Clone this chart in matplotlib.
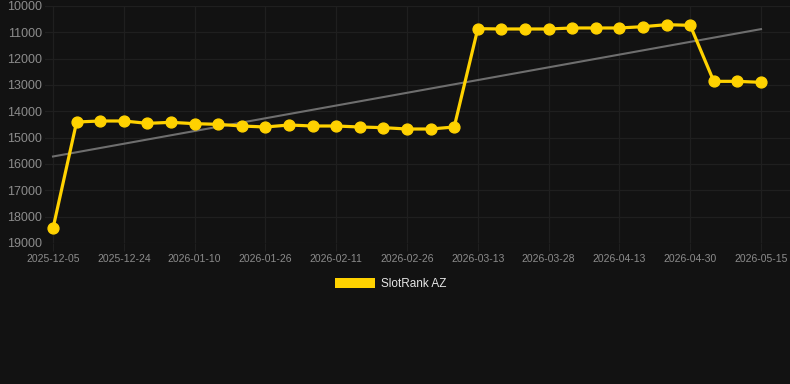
import numpy as np
import matplotlib
matplotlib.use('Agg')
import matplotlib.pyplot as plt
from matplotlib.patches import Patch

# rank per observation (lower is better, axis inverted)
rank = [18443, 14405, 14367, 14367, 14456, 14418, 14468, 14494, 14557, 14595,
        14519, 14557, 14557, 14595, 14620, 14671, 14671, 14595, 10861, 10873,
        10873, 10873, 10835, 10835, 10835, 10785, 10709, 10734, 12861, 12861,
        12899]
tick_labels = ['2025-12-05', '2025-12-24', '2026-01-10', '2026-01-26', '2026-02-11',
               '2026-02-26', '2026-03-13', '2026-03-28', '2026-04-13', '2026-04-30',
               '2026-05-15']
y_ticks = [10000, 11000, 12000, 13000, 14000, 15000, 16000, 17000, 18000, 19000]
series_name = 'SlotRank AZ'

plt.rcParams['font.family'] = ['Liberation Sans', 'DejaVu Sans']

bg = '#121212'
gold = '#FFD200'

x = np.arange(len(rank))
slope, icpt = np.polyfit(x, rank, 1)
trend = slope * x + icpt

fig = plt.figure(figsize=(7.9, 3.84), dpi=100, facecolor=bg)
ax = fig.add_axes([45/790, 1 - 243/384, 1 - 45/790, (243 - 6)/384])
ax.set_facecolor(bg)

ax.plot(x, trend, color='#6e6e6e', lw=1.5, zorder=2)
ax.plot(x, rank, color=gold, lw=2.3, marker='o', markersize=7.8, zorder=3)

ax.set_xlim(-8/23.6, (790 - 53)/23.6)
ax.set_ylim(19000, 10000)
ax.set_yticks(y_ticks)
ax.set_yticklabels([str(v) for v in y_ticks])
ax.set_xticks(x[::3])
ax.set_xticklabels(tick_labels)

ax.grid(True, color='#1f1f1f', lw=0.9)
for s in ax.spines.values():
    s.set_visible(False)
ax.tick_params(axis='y', length=0, pad=2, labelsize=9, labelcolor='#8c8c8c')
ax.tick_params(axis='x', length=6, color='#1f1f1f', pad=2, labelsize=7.5, labelcolor='#8c8c8c')

leg = fig.legend(handles=[Patch(facecolor=gold, label=series_name)],
                 loc='center', bbox_to_anchor=(391/790, 1 - 284/384),
                 frameon=False, fontsize=8.5, handlelength=3.4, handleheight=1.0,
                 handletextpad=0.5)
for t in leg.get_texts():
    t.set_color('#e6e6e6')

plt.savefig('out.png', format='png', facecolor=bg)
